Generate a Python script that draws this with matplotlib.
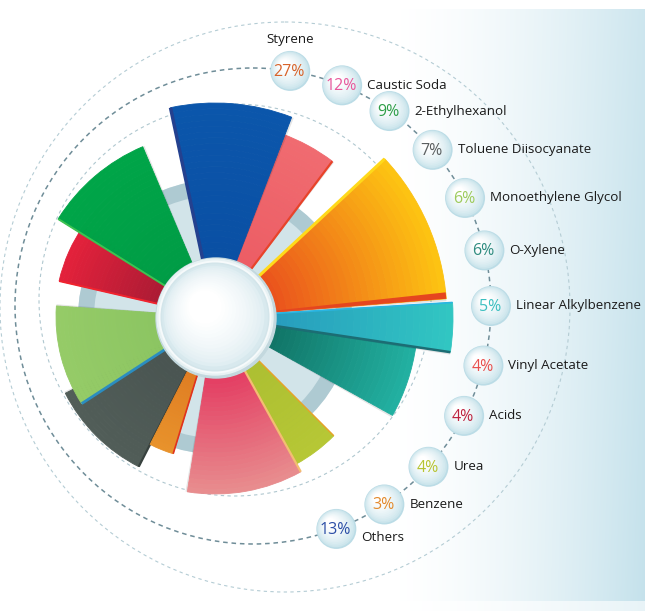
import numpy as np
import matplotlib
matplotlib.use('Agg')
import matplotlib.pyplot as plt
from matplotlib.patches import Circle
from matplotlib.colors import to_rgb

categories = ['Styrene', 'Caustic Soda', '2-Ethylhexanol', 'Toluene Diisocyanate',
              'Monoethylene Glycol', 'O-Xylene', 'Linear Alkylbenzene', 'Vinyl Acetate',
              'Acids', 'Urea', 'Benzene', 'Others']
shares = [27, 12, 9, 7, 6, 6, 5, 4, 4, 4, 3, 13]

# wedge extent of each category (deg ccw from east) and its outer radius (px)
wedge_start = [4.5, -99, 113, -153, 176, -29, -8.5, 53, 145, -61, -117, 69]
wedge_end = [43, -61, 148, -117, 213, -8, 3.5, 70, 167, -45, -107, 102]
wedge_radius = [232, 177, 185, 168, 159, 203, 238, 195, 160, 168, 143, 214]

# --- styling ---
share_colors = ['#D8632A', '#E8579B', '#2E9E48', '#5B5F60', '#9DCB5C', '#2F8C80',
                '#3CBFC0', '#E9504E', '#BE2440', '#B7C431', '#E38A2C', '#2B4EA6']
inner_colors = ['#E8461E', '#E3305B', '#009B45', '#485350', '#8AC461', '#0E6C5E',
                '#2698BD', '#EC5B63', '#A21A33', '#ABBE31', '#DE7820', '#0A4FA3']
outer_colors = ['#FDC312', '#E88C8E', '#00A548', '#515D58', '#95CB67', '#22B0A1',
                '#31C6C2', '#F06B70', '#E3213B', '#B6C735', '#E8922B', '#0B56AB']
draw_order = [8, 2, 3, 4, 10, 9, 1, 5, 0, 6, 7, 11]
# (category index, edge angle, colour, width) for the bevel lines
edge_lines = [(11, 102, '#24418F', 2.5), (7, 53, '#E8432A', 1.6), (0, 43, '#FFD91A', 2.2),
              (6, -8.5, '#1C6D74', 1.8), (6, 3.5, '#2AB5E2', 1.2), (9, -45, '#E9A12A', 1.0),
              (1, -61, '#F3BE72', 1.6), (10, -107, '#E0321F', 1.2), (4, 213, '#2B8DC0', 2.0),
              (2, 148, '#3DC252', 1.4), (8, 167, '#F0232E', 1.4), (3, -117, '#38423F', 1.6)]
bubble_angle = [81, 68, 55, 41, 27, 13.5, 0, -14.5, -27.5, -42.5, -56.5, -69.5]

W, H = 645, 611
cx, cy = 215, 317          # centre of the wheel in pixels (from top-left)
R = 250

fig = plt.figure(figsize=(W / 100, H / 100), dpi=100)
fig.patch.set_facecolor('white')

# background axes in pixel units
bg = fig.add_axes([0, 0, 1, 1])
bg.set_xlim(0, W)
bg.set_ylim(H, 0)
bg.axis('off')

xx = np.linspace(0, 1, W)
yy = np.linspace(0, 1, H)
u = np.clip((xx - 0.6) / 0.4, 0, 1)
t = u ** 1.6
t = t[None, :] * (0.85 + 0.15 * yy[:, None])
blue = np.array(to_rgb('#C4E1EB'))
img = np.ones((H, W, 3)) * (1 - t[..., None]) + blue * t[..., None]
img[:9] = 1.0
img[-10:] = img[-10:] * 0.4 + 0.6
img = np.round(np.clip(img, 0, 1) * 255).astype(np.uint8)
bg.imshow(img, extent=(0, W, H, 0), aspect='auto', interpolation='nearest', zorder=0)

# dashed guide circles
bg.add_patch(Circle((235, 300), 196, fill=False, ec='#AFC7CF', lw=0.8, ls=(0, (3, 3)), zorder=1))
bg.add_patch(Circle((285, 307), 285, fill=False, ec='#B4CCD4', lw=0.8, ls=(0, (3, 3)), zorder=1))
bg.add_patch(Circle((253, 306), 238, fill=False, ec='#6F8D98', lw=1.1, ls=(0, (3, 2.5)), zorder=1))

# bubbles with percentages and labels
bcx, bcy, br = 253, 306, 238
shade0 = np.array(to_rgb('#BBDCE6'))
for i, name in enumerate(categories):
    a = np.radians(bubble_angle[i])
    bx = bcx + br * np.cos(a)
    by = bcy - br * np.sin(a)
    n = 14
    for k in range(n):
        f = (k / (n - 1)) ** 0.55
        col = shade0 * (1 - f) + np.ones(3) * f
        rr = 20 - 15 * k / (n - 1)
        bg.add_patch(Circle((bx - 6 * k / (n - 1), by - 6 * k / (n - 1)), rr, color=col, lw=0, zorder=3))
    bg.text(bx - 1, by + 1, f'{shares[i]}%', color=share_colors[i], fontsize=11.5,
            family='Open Sans', ha='center', va='center', zorder=4)
    if i == 0:
        lx, ly, ha = bx, by - 31, 'center'
    elif i == len(categories) - 1:
        lx, ly, ha = bx + 25, by + 9, 'left'
    else:
        lx, ly, ha = bx + 25, by, 'left'
    bg.text(lx, ly, name, fontsize=9.6, family='Open Sans', color='#1A1A1A',
            ha=ha, va='center', zorder=4)

# polar axes for the wheel, radius in pixels
pax = fig.add_axes([(cx - R) / W, (H - cy - R) / H, 2 * R / W, 2 * R / H], projection='polar')
pax.set_zorder(2)
pax.set_ylim(0, R)
pax.axis('off')

# grey ring behind the wedges
pax.bar(0, 80, width=2 * np.pi, bottom=57, color='#D2E4E9', lw=0, zorder=1)
pax.bar(0, 16, width=2 * np.pi, bottom=121, color='#AECAD2', lw=0, zorder=1)

nstep = 30
for z, i in enumerate(draw_order):
    t0, t1, r = wedge_start[i], wedge_end[i], wedge_radius[i]
    ci, co = np.array(to_rgb(inner_colors[i])), np.array(to_rgb(outer_colors[i]))
    # thin shadow
    pax.bar(np.radians((t0 + t1) / 2 - 0.6), r - 40, width=np.radians(t1 - t0), bottom=40,
            color='#000000', alpha=0.10, lw=0, zorder=2 + 2 * z)
    steps = np.linspace(40, r, nstep + 1)
    for k in range(nstep):
        f = k / (nstep - 1)
        col = ci * (1 - f) + co * f
        pax.bar(np.radians((t0 + t1) / 2), steps[k + 1] - steps[k], width=np.radians(t1 - t0),
                bottom=steps[k], color=col, ec=col, lw=0.6, zorder=3 + 2 * z)
    if i == 0:
        # thin red-orange strip along the lower edge of the big orange wedge
        pax.bar(np.radians(t0 + 0.8), r - 40, width=np.radians(1.6), bottom=40,
                color='#E5461F', lw=0, zorder=3 + 2 * z)
    for ei, ang, ecol, elw in edge_lines:
        if ei == i:
            pax.plot([np.radians(ang)] * 2, [57, r], color=ecol, lw=elw, zorder=3.5 + 2 * z,
                     solid_capstyle='butt')

# white hub in the middle
s = 2 * R
hub = [Circle((0.5 + 1 / s, 0.5 - 1 / s), 60 / s, color='#C3D8DE'),
       Circle((0.5, 0.5), 58 / s, color='#E8F2F4'),
       Circle((0.5, 0.5), 54.5 / s, color='#D3E5EA')]
for p in hub:
    p.set_transform(pax.transAxes)
    p.set_zorder(50)
    pax.add_patch(p)
c0 = np.array(to_rgb('#D8E9EE'))
for k in range(14):
    f = (k / 13) ** 0.6
    col = c0 * (1 - f) + np.ones(3) * f
    p = Circle((0.5 - 10 * k / 13 / s, 0.5 + 10 * k / 13 / s), (53 - 36 * k / 13) / s, color=col, lw=0,
               transform=pax.transAxes, zorder=51)
    pax.add_patch(p)
ring = Circle((0.5, 0.5), 55.5 / s, fill=False, ec='#F6FAFB', lw=1.4, transform=pax.transAxes, zorder=52)
pax.add_patch(ring)

fig.savefig('out.png', dpi=100, facecolor='white')
